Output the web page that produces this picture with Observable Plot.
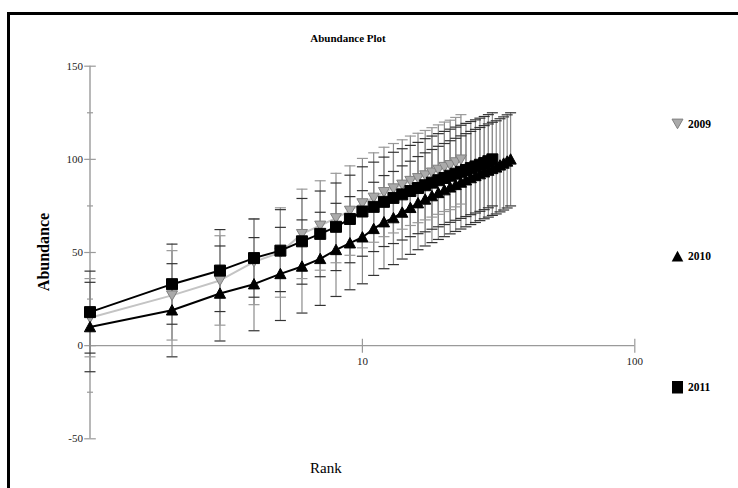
<!DOCTYPE html>
<html><head><meta charset="utf-8">
<script src="https://cdn.jsdelivr.net/npm/d3@7"></script>
<script src="https://cdn.jsdelivr.net/npm/@observablehq/plot@0.6"></script>
<style>
body{margin:0;background:#fff;}
#wrap{position:relative;width:738px;height:488px;overflow:hidden;font-family:"Liberation Serif","Times New Roman",serif;}
#frame{position:absolute;left:7px;top:12px;width:800px;height:600px;border-top:3px solid #000;border-left:3px solid #000;box-sizing:border-box;}
#chart{position:absolute;left:0;top:0;}
#over{position:absolute;left:0;top:0;}
</style></head><body>
<div id="wrap"><div id="frame"></div><div id="chart"></div><svg id="over" width="738" height="488"></svg></div>
<script>
// ---- data ----
const years = ["2009", "2010", "2011"];
const mean2009 = [15, 27, 35, 45, 50, 60, 64.5, 68.5, 72.5, 76.5, 79.5, 82.5, 84.5, 86.5, 88.5, 90, 91.5, 93, 94.5, 96, 97, 98.5, 100];
const sd2009   = [21, 24, 24, 23, 24, 24, 24, 24, 24, 24, 24, 24, 24, 24, 24, 24, 24, 24, 24, 24, 24, 24, 24];
const mean2010 = [10, 19, 28, 33, 38.5, 42.5, 46.6, 51.4, 55, 58.2, 62.7, 66.3, 68.5, 71.5, 74, 76.5, 78.5, 80.3, 82, 83.5, 85, 86.3, 87.6, 88.8, 90, 91.1, 92.1, 93.1, 94, 94.9, 95.7, 96.8, 97.8, 98.9, 100];
const sd2010   = [24, 25, 25.5, 25, 25, 25, 25, 25, 25, 25, 25, 25, 25, 25, 25, 25, 25, 25, 25, 25, 25, 25, 25, 25, 25, 25, 25, 25, 25, 25, 25, 25, 25, 25, 25];
const mean2011 = [18, 33, 40.3, 47, 51, 56, 60, 63.8, 68, 72, 74.5, 77.2, 79.3, 81.2, 83, 84.6, 86.1, 87.5, 88.8, 90, 91.2, 92.3, 93.3, 94.3, 95.3, 96.2, 97.1, 98, 99, 100];
const sd2011   = [22, 21.5, 22, 21, 22, 23, 23, 23.5, 23.5, 24, 24, 24, 24.5, 24.5, 24.5, 24.5, 25, 25, 25, 25, 25, 25, 25, 25, 25, 25, 25, 25, 25, 25];
const yMajorTicks = [-50, 0, 50, 100, 150];
const yMinorTicks = [-25, 25, 75, 125];
const xTicks = [10, 100];
const xTickLabels = ["10", "100"];
const xDomain = [1, 100];
const yDomain = [-50, 150];

// ---- build rows ----
function rowsOf(year, means, sds) {
  return means.map((m, i) => ({year, rank: i + 1, mean: m, lo: m - sds[i], hi: m + sds[i]}));
}
const r2009 = rowsOf(years[0], mean2009, sd2009);
const r2010 = rowsOf(years[1], mean2010, sd2010);
const r2011 = rowsOf(years[2], mean2011, sd2011);
const all = [...r2009, ...r2010, ...r2011];

// custom symbols
const hbar = {draw(c, s) { const h = Math.sqrt(s / Math.PI); c.moveTo(-h, 0); c.lineTo(h, 0); }};
const vbar = {draw(c, s) { const h = Math.sqrt(s / Math.PI); c.moveTo(0, -h); c.lineTo(0, h); }};
const triDown = {draw(c, s) { const r = Math.sqrt(s / Math.PI); c.moveTo(-r, -0.8 * r); c.lineTo(r, -0.8 * r); c.lineTo(0, 0.95 * r); c.closePath(); }};
const triUp = {draw(c, s) { const r = Math.sqrt(s / Math.PI); c.moveTo(-r, 0.85 * r); c.lineTo(r, 0.85 * r); c.lineTo(0, -1.0 * r); c.closePath(); }};
const sq = {draw(c, s) { const r = Math.sqrt(s / Math.PI); c.rect(-r, -r, 2 * r, 2 * r); }};

const axisGray = "#9a9a9a";
const chart = Plot.plot({
  width: 738, height: 488,
  marginLeft: 89.5, marginRight: 103.7, marginTop: 65.7, marginBottom: 49.7,
  x: {type: "log", domain: xDomain, axis: null},
  y: {domain: yDomain, axis: null},
  style: {fontFamily: "Liberation Serif, Times New Roman, serif", fontSize: "11px", background: "transparent", overflow: "visible"},
  marks: [
    // axes
    Plot.ruleX([xDomain[0]], {y1: yDomain[0], y2: yDomain[1], stroke: axisGray, strokeWidth: 1.4}),
    Plot.ruleY([0], {x1: xDomain[0], x2: xDomain[1], stroke: axisGray, strokeWidth: 1.4}),
    Plot.dot(yMajorTicks, {x: () => xDomain[0], y: d => d, symbol: hbar, r: 5.8, stroke: axisGray, fill: "none", strokeWidth: 1.2}),
    Plot.dot(yMinorTicks, {x: () => xDomain[0], y: d => d, symbol: hbar, r: 3, stroke: axisGray, fill: "none", strokeWidth: 1.2}),
    Plot.dot(xTicks, {x: d => d, y: () => 0, symbol: vbar, r: 7, stroke: axisGray, fill: "none", strokeWidth: 1.2}),
    Plot.text(yMajorTicks, {x: () => xDomain[0], y: d => d, text: d => String(d), dx: -7, textAnchor: "end", fill: "#222", fontSize: 11}),
    Plot.text(xTicks, {x: d => d, y: () => 0, text: (d, i) => xTickLabels[i], dy: 16, fill: "#222", fontSize: 11}),
    // error bars
    Plot.ruleX(all, {x: "rank", y1: "lo", y2: "hi", stroke: "#8c8c8c", strokeWidth: 1.2}),
    Plot.dot(r2009, {x: "rank", y: "lo", symbol: hbar, r: 5.5, stroke: "#999", fill: "none", strokeWidth: 1.2}),
    Plot.dot(r2009, {x: "rank", y: "hi", symbol: hbar, r: 5.5, stroke: "#999", fill: "none", strokeWidth: 1.2}),
    Plot.dot([...r2010, ...r2011], {x: "rank", y: "lo", symbol: hbar, r: 5.5, stroke: "#333", fill: "none", strokeWidth: 1.2}),
    Plot.dot([...r2010, ...r2011], {x: "rank", y: "hi", symbol: hbar, r: 5.5, stroke: "#333", fill: "none", strokeWidth: 1.2}),
    // lines
    Plot.line(r2009, {x: "rank", y: "mean", stroke: "#c4c4c4", strokeWidth: 2}),
    Plot.line(r2010, {x: "rank", y: "mean", stroke: "#000", strokeWidth: 2}),
    Plot.line(r2011, {x: "rank", y: "mean", stroke: "#000", strokeWidth: 2}),
    // markers
    Plot.dot(r2009, {x: "rank", y: "mean", symbol: triDown, r: 5.5, fill: "#aaaaaa", stroke: "#808080", strokeWidth: 1}),
    Plot.dot(r2010, {x: "rank", y: "mean", symbol: triUp, r: 5.6, fill: "#000", stroke: "#000", strokeWidth: 1}),
    Plot.dot(r2011, {x: "rank", y: "mean", symbol: sq, r: 5.5, fill: "#000", stroke: "#000", strokeWidth: 1})
  ]
});
document.getElementById("chart").appendChild(chart);

// ---- titles & legend overlay ----
const over = d3.select("#over");
over.append("text").attr("x", 348).attr("y", 42).attr("text-anchor", "middle")
  .attr("font-weight", "bold").attr("font-size", 11).text("Abundance Plot");
over.append("text").attr("transform", "translate(48.5,252) rotate(-90)").attr("text-anchor", "middle")
  .attr("font-weight", "bold").attr("font-size", 16).text("Abundance");
over.append("text").attr("x", 310).attr("y", 473).attr("font-size", 15).text("Rank");
const legendY = [124, 256, 387];
const lg = over.append("g");
// 2009
lg.append("path").attr("d", d3.symbol(triDown, 5.5 * 5.5 * Math.PI)()).attr("transform", `translate(677.5,${legendY[0] - 0.5})`)
  .attr("fill", "#aaaaaa").attr("stroke", "#808080");
lg.append("path").attr("d", d3.symbol(triUp, 5.8 * 5.8 * Math.PI)()).attr("transform", `translate(677.5,${legendY[1] + 0.5})`)
  .attr("fill", "#000");
lg.append("rect").attr("x", 672).attr("y", legendY[2] - 6).attr("width", 11).attr("height", 12.5).attr("fill", "#000");
years.forEach((y, i) => {
  lg.append("text").attr("x", 688).attr("y", legendY[i] + 4).attr("font-weight", "bold").attr("font-size", 11.5).text(y);
});
</script>
</body></html>
